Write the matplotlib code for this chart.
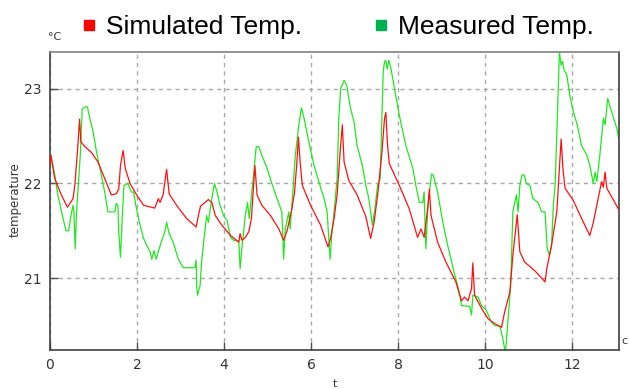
import matplotlib
matplotlib.use("Agg")
import matplotlib.pyplot as plt
from matplotlib.lines import Line2D

# simulated temperature (red)
simT = [0.0, 0.02, 0.11, 0.26, 0.40, 0.53, 0.57, 0.63, 0.68, 0.71, 0.80, 0.95, 1.10, 1.26, 1.41, 1.52,
        1.58, 1.62, 1.68, 1.73, 1.84, 1.99, 2.15, 2.41, 2.49, 2.53, 2.60, 2.68, 2.74, 2.91, 3.14, 3.36,
        3.41, 3.46, 3.64, 3.72, 3.80, 3.95, 4.15, 4.34, 4.37, 4.41, 4.49, 4.57, 4.63, 4.68, 4.71, 4.76,
        4.87, 5.07, 5.26, 5.37, 5.45, 5.56, 5.62, 5.67, 5.71, 5.75, 5.80, 5.99, 6.22, 6.39, 6.45, 6.53,
        6.60, 6.68, 6.72, 6.76, 6.87, 7.06, 7.26, 7.37, 7.45, 7.54, 7.63, 7.69, 7.72, 7.76, 7.80, 8.03,
        8.26, 8.45, 8.53, 8.60, 8.68, 8.72, 8.76, 8.91, 9.10, 9.33, 9.40, 9.46, 9.53, 9.61, 9.69, 9.72,
        9.76, 9.92, 10.07, 10.22, 10.38, 10.45, 10.57, 10.64, 10.74, 10.80, 10.91, 11.14, 11.30, 11.38,
        11.42, 11.53, 11.65, 11.71, 11.75, 11.79, 11.84, 12.03, 12.22, 12.41, 12.49, 12.60, 12.68, 12.72,
        12.76, 12.80, 12.91, 13.08]
simV = [22.20, 22.30, 22.05, 21.88, 21.75, 21.84, 21.98, 22.33, 22.68, 22.44, 22.39, 22.33, 22.23, 22.05,
        21.88, 21.89, 21.94, 22.19, 22.35, 22.16, 22.00, 21.88, 21.77, 21.74, 21.84, 21.80, 21.88, 22.15,
        21.89, 21.77, 21.63, 21.54, 21.66, 21.76, 21.83, 21.80, 21.66, 21.56, 21.45, 21.38, 21.47, 21.40,
        21.43, 21.49, 21.63, 21.98, 22.19, 21.88, 21.77, 21.66, 21.52, 21.40, 21.50, 21.73, 21.90, 22.19,
        22.49, 22.23, 21.98, 21.77, 21.56, 21.33, 21.42, 21.63, 21.88, 22.40, 22.62, 22.23, 22.03, 21.88,
        21.65, 21.42, 21.59, 21.91, 22.33, 22.69, 22.75, 22.40, 22.21, 21.98, 21.73, 21.43, 21.52, 21.43,
        21.73, 21.94, 21.66, 21.38, 21.17, 20.96, 20.85, 20.76, 20.80, 20.76, 20.89, 21.16, 20.82, 20.68,
        20.57, 20.52, 20.48, 20.64, 20.85, 21.24, 21.67, 21.28, 21.17, 21.08, 21.00, 20.96, 21.10, 21.35,
        21.70, 22.16, 22.47, 22.16, 21.95, 21.82, 21.63, 21.45, 21.59, 21.84, 22.02, 21.96, 22.12, 21.95,
        21.86, 21.72]

# measured temperature (green)
meaT = [0.0, 0.02, 0.11, 0.18, 0.30, 0.37, 0.43, 0.48, 0.53, 0.55, 0.58, 0.61, 0.66, 0.70, 0.74, 0.81,
        0.86, 0.91, 0.99, 1.07, 1.18, 1.27, 1.33, 1.49, 1.52, 1.56, 1.58, 1.62, 1.66, 1.70, 1.79, 1.87,
        1.92, 1.99, 2.07, 2.15, 2.22, 2.30, 2.34, 2.39, 2.44, 2.49, 2.57, 2.64, 2.68, 2.74, 2.83, 2.95,
        3.06, 3.33, 3.36, 3.37, 3.39, 3.45, 3.49, 3.56, 3.60, 3.64, 3.72, 3.78, 3.84, 3.91, 3.99, 4.07,
        4.15, 4.22, 4.34, 4.37, 4.41, 4.45, 4.49, 4.54, 4.58, 4.64, 4.70, 4.74, 4.80, 4.87, 4.99, 5.10,
        5.22, 5.33, 5.37, 5.41, 5.49, 5.52, 5.56, 5.64, 5.72, 5.78, 5.84, 5.95, 6.07, 6.18, 6.30, 6.37,
        6.44, 6.47, 6.53, 6.60, 6.64, 6.68, 6.76, 6.82, 6.91, 6.99, 7.06, 7.18, 7.26, 7.33, 7.41, 7.46,
        7.53, 7.59, 7.63, 7.66, 7.69, 7.72, 7.75, 7.79, 7.84, 7.92, 8.03, 8.18, 8.34, 8.41, 8.49, 8.57,
        8.60, 8.64, 8.68, 8.74, 8.77, 8.81, 8.91, 9.03, 9.14, 9.29, 9.40, 9.46, 9.65, 9.69, 9.72, 9.84,
        9.92, 10.03, 10.15, 10.22, 10.34, 10.41, 10.47, 10.53, 10.59, 10.64, 10.72, 10.76, 10.80, 10.85,
        10.90, 10.95, 11.03, 11.10, 11.22, 11.30, 11.38, 11.43, 11.48, 11.53, 11.57, 11.61, 11.65, 11.69,
        11.71, 11.75, 11.78, 11.82, 11.88, 11.95, 12.03, 12.12, 12.22, 12.34, 12.41, 12.49, 12.53, 12.57,
        12.64, 12.72, 12.76, 12.82, 12.91, 13.03, 13.08]
meaV = [22.25, 22.30, 22.09, 21.88, 21.63, 21.50, 21.50, 21.66, 21.77, 21.70, 21.31, 21.70, 22.05, 22.33,
        22.79, 22.81, 22.81, 22.70, 22.55, 22.33, 22.09, 21.88, 21.70, 21.70, 21.79, 21.77, 21.49, 21.22,
        21.63, 21.98, 22.00, 21.91, 21.91, 21.73, 21.56, 21.42, 21.35, 21.28, 21.20, 21.29, 21.20, 21.28,
        21.40, 21.49, 21.59, 21.47, 21.38, 21.20, 21.11, 21.11, 21.19, 20.92, 20.82, 20.92, 21.20, 21.49,
        21.66, 21.59, 21.84, 22.00, 21.91, 21.77, 21.66, 21.61, 21.43, 21.40, 21.39, 21.10, 21.31, 21.49,
        21.66, 21.80, 21.63, 21.91, 22.19, 22.39, 22.39, 22.30, 22.16, 22.00, 21.84, 21.70, 21.20, 21.52,
        21.70, 21.52, 21.77, 22.30, 22.62, 22.80, 22.69, 22.44, 22.19, 22.02, 21.84, 21.70, 21.20, 21.42,
        21.70, 22.05, 22.69, 23.00, 23.09, 23.04, 22.79, 22.65, 22.40, 22.19, 21.98, 21.84, 21.56, 21.70,
        21.98, 22.05, 22.69, 23.18, 23.29, 23.30, 23.21, 23.30, 23.21, 23.00, 22.72, 22.40, 22.16, 21.98,
        21.80, 21.80, 21.91, 21.31, 21.70, 21.98, 22.10, 22.09, 21.91, 21.59, 21.35, 21.06, 20.87, 20.71,
        20.70, 20.61, 20.82, 20.80, 20.71, 20.66, 20.53, 20.50, 20.49, 20.36, 20.20, 20.57, 20.92, 21.70,
        21.88, 21.70, 21.98, 22.09, 22.09, 22.00, 21.98, 21.84, 21.80, 21.70, 21.70, 21.31, 21.24, 21.35,
        21.77, 21.98, 22.51, 23.11, 23.39, 23.25, 23.29, 23.20, 23.15, 22.93, 22.76, 22.62, 22.40, 22.30,
        22.19, 22.00, 22.12, 22.02, 22.30, 22.69, 22.62, 22.90, 22.76, 22.58, 22.46]

legendLabels = ["Simulated Temp.", "Measured Temp."]
xTicks = [0, 2, 4, 6, 8, 10, 12]
yTicks = [21, 22, 23]

fig = plt.figure(figsize=(6.29, 3.89), dpi=100)
ax = fig.add_axes([50/629, 1 - 350/389, 569/629, 298/389])

ax.plot(simT, simV, color="#ff1010", lw=0.9, zorder=3)
ax.plot(meaT, meaV, color="#20e820", lw=0.9, zorder=2)

ax.set_xlim(0, 13.08)
ax.set_ylim(20.24, 23.39)
ax.set_xticks(xTicks)
ax.set_yticks(yTicks)
ax.grid(True, color="#a8a8a8", linestyle=(0, (3, 3)), linewidth=1)
ax.tick_params(direction="in", length=6, width=1, color="#505050",
               labelsize=10, labelcolor="#333333", pad=6)
for s in ax.spines.values():
    s.set_color("#404040")
    s.set_linewidth(1.2)
ax.spines["top"].set_color("#808080")

fig.text(15/629, 1 - 200/389, "temperature", rotation=90, ha="center", va="center",
         fontsize=8.5, color="#333333")
fig.text(55/629, 1 - 37/389, "°C", ha="center", va="center", fontsize=8, color="#333333")
fig.text(335/629, 1 - 384/389, "t", ha="center", va="center", fontsize=8, color="#333333")
fig.text(621/629, 1 - 341/389, "c", ha="left", va="center", fontsize=8, color="#333333")

handles = [Line2D([], [], linestyle="none", marker="s", markersize=7.5,
                  markerfacecolor="#ff0000", markeredgecolor="#ff0000"),
           Line2D([], [], linestyle="none", marker="s", markersize=7.5,
                  markerfacecolor="#00b050", markeredgecolor="#00b050")]
fig.legend(handles, legendLabels, loc="center left", bbox_to_anchor=(81/629, 1 - 27/389),
           ncol=2, frameon=False, prop={"family": "Liberation Sans", "size": 19},
           handlelength=0.6, handletextpad=0.35, columnspacing=2.7, borderpad=0, borderaxespad=0)

fig.savefig("out.png", dpi=100)
